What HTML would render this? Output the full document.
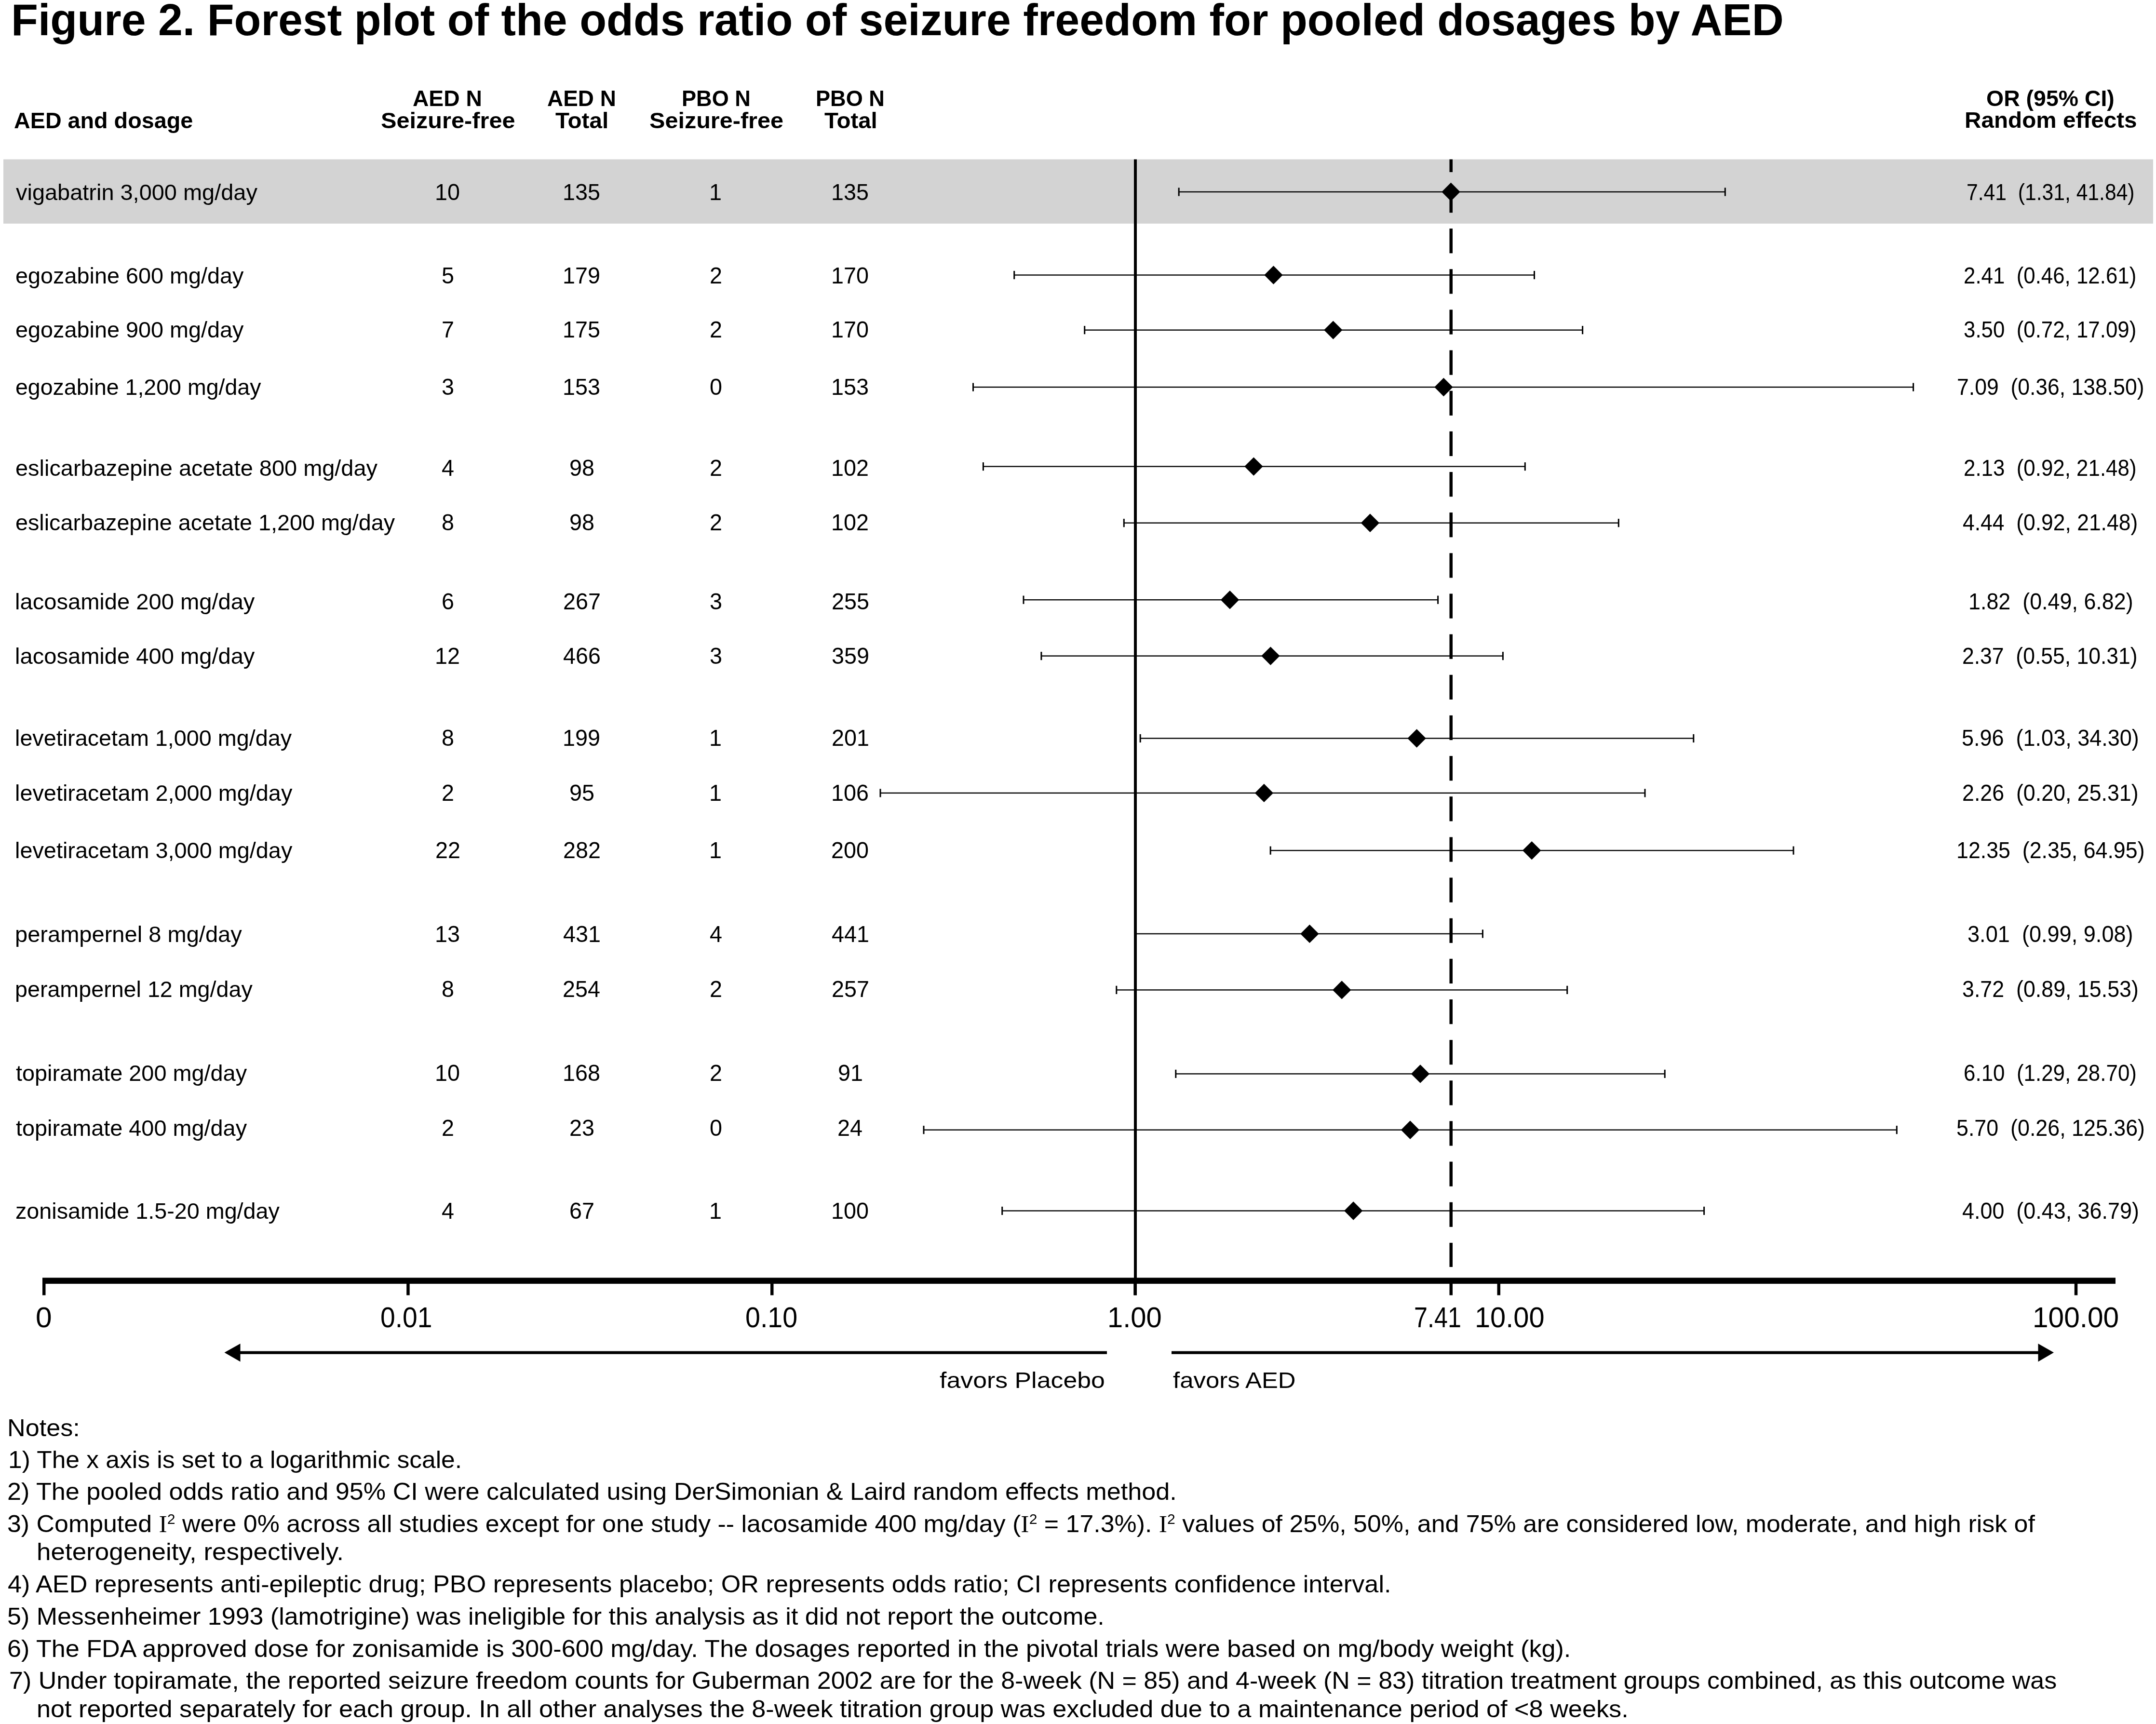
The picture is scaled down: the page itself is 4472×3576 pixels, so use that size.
<!DOCTYPE html>
<html><head><meta charset="utf-8"><title>Forest plot</title>
<style>
html,body{margin:0;padding:0;background:#fff;}
body{width:4472px;height:3576px;position:relative;overflow:hidden;font-family:"Liberation Sans", sans-serif;color:#000;}
.t{position:absolute;white-space:pre;transform-origin:0 0;}
#w{position:absolute;left:0;top:0;width:4472px;height:3576px;filter:grayscale(1);}
svg{position:absolute;left:0;top:0;}
</style></head><body>
<div id="w"><svg width="4472" height="3576" viewBox="0 0 4472 3576">
<rect x='7.0' y='330.5' width='4459.0' height='133.3' fill='#d3d3d3'/><rect x='2352.0' y='330.5' width='6.0' height='2356.0' fill='#000'/><rect x='3006.5' y='330.5' width='6.5' height='26.5' fill='#000'/><rect x='3006.5' y='390.0' width='6.5' height='51.2' fill='#000'/><rect x='3006.5' y='474.1' width='6.5' height='51.2' fill='#000'/><rect x='3006.5' y='558.2' width='6.5' height='51.2' fill='#000'/><rect x='3006.5' y='642.4' width='6.5' height='51.2' fill='#000'/><rect x='3006.5' y='726.5' width='6.5' height='51.2' fill='#000'/><rect x='3006.5' y='810.7' width='6.5' height='51.2' fill='#000'/><rect x='3006.5' y='894.8' width='6.5' height='51.2' fill='#000'/><rect x='3006.5' y='979.0' width='6.5' height='51.2' fill='#000'/><rect x='3006.5' y='1063.1' width='6.5' height='51.2' fill='#000'/><rect x='3006.5' y='1147.3' width='6.5' height='51.2' fill='#000'/><rect x='3006.5' y='1231.5' width='6.5' height='51.2' fill='#000'/><rect x='3006.5' y='1315.6' width='6.5' height='51.2' fill='#000'/><rect x='3006.5' y='1399.8' width='6.5' height='51.2' fill='#000'/><rect x='3006.5' y='1483.9' width='6.5' height='51.2' fill='#000'/><rect x='3006.5' y='1568.1' width='6.5' height='51.2' fill='#000'/><rect x='3006.5' y='1652.2' width='6.5' height='51.2' fill='#000'/><rect x='3006.5' y='1736.4' width='6.5' height='51.2' fill='#000'/><rect x='3006.5' y='1820.5' width='6.5' height='51.2' fill='#000'/><rect x='3006.5' y='1904.7' width='6.5' height='51.2' fill='#000'/><rect x='3006.5' y='1988.8' width='6.5' height='51.2' fill='#000'/><rect x='3006.5' y='2073.0' width='6.5' height='51.2' fill='#000'/><rect x='3006.5' y='2157.1' width='6.5' height='51.2' fill='#000'/><rect x='3006.5' y='2241.3' width='6.5' height='51.2' fill='#000'/><rect x='3006.5' y='2325.4' width='6.5' height='51.2' fill='#000'/><rect x='3006.5' y='2409.6' width='6.5' height='51.2' fill='#000'/><rect x='3006.5' y='2493.7' width='6.5' height='51.2' fill='#000'/><rect x='3006.5' y='2577.9' width='6.5' height='50.1' fill='#000'/><rect x='88.0' y='2650.3' width='4300.0' height='12.6' fill='#000'/><rect x='88.0' y='2662.0' width='6.5' height='24.6' fill='#000'/><rect x='843.2' y='2662.0' width='6.5' height='24.6' fill='#000'/><rect x='1598.0' y='2662.0' width='6.5' height='24.6' fill='#000'/><rect x='2351.3' y='2662.0' width='6.5' height='24.6' fill='#000'/><rect x='3006.5' y='2662.0' width='6.5' height='24.6' fill='#000'/><rect x='3105.5' y='2662.0' width='6.5' height='24.6' fill='#000'/><rect x='4302.8' y='2662.0' width='6.5' height='24.6' fill='#000'/><rect x='497.0' y='2802.6' width='1799.0' height='6.1' fill='#000'/><polygon points='465.5,2805.6 498.5,2786.9 498.5,2824.5' fill='#000'/><rect x='2430.0' y='2802.6' width='1799.0' height='6.1' fill='#000'/><polygon points='4260,2805.6 4227.5,2786.9 4227.5,2824.5' fill='#000'/><rect x='2445.2' y='396.8' width='1133.1' height='2.4' fill='#000'/><rect x='2443.7' y='389.4' width='3.0' height='17.2' fill='#000'/><rect x='3576.8' y='389.4' width='3.0' height='17.2' fill='#000'/><polygon points='2990.3,398.0 3009.5,378.8 3028.7,398.0 3009.5,417.2' fill='#000'/><rect x='2103.7' y='569.3' width='1078.8' height='2.4' fill='#000'/><rect x='2102.2' y='561.9' width='3.0' height='17.2' fill='#000'/><rect x='3181.0' y='561.9' width='3.0' height='17.2' fill='#000'/><polygon points='2622.3,570.5 2641.5,551.3 2660.7,570.5 2641.5,589.7' fill='#000'/><rect x='2249.7' y='683.4' width='1032.9' height='2.4' fill='#000'/><rect x='2248.2' y='676.0' width='3.0' height='17.2' fill='#000'/><rect x='3281.1' y='676.0' width='3.0' height='17.2' fill='#000'/><polygon points='2746.1,684.6 2765.3,665.4 2784.5,684.6 2765.3,703.8' fill='#000'/><rect x='2018.5' y='801.8' width='1950.1' height='2.4' fill='#000'/><rect x='2017.0' y='794.4' width='3.0' height='17.2' fill='#000'/><rect x='3967.1' y='794.4' width='3.0' height='17.2' fill='#000'/><polygon points='2975.2,803.0 2994.4,783.8 3013.6,803.0 2994.4,822.2' fill='#000'/><rect x='2039.4' y='966.4' width='1123.9' height='2.4' fill='#000'/><rect x='2037.9' y='959.0' width='3.0' height='17.2' fill='#000'/><rect x='3161.8' y='959.0' width='3.0' height='17.2' fill='#000'/><polygon points='2581.2,967.6 2600.4,948.4 2619.6,967.6 2600.4,986.8' fill='#000'/><rect x='2331.3' y='1083.5' width='1026.0' height='2.4' fill='#000'/><rect x='2329.8' y='1076.1' width='3.0' height='17.2' fill='#000'/><rect x='3355.8' y='1076.1' width='3.0' height='17.2' fill='#000'/><polygon points='2822.7,1084.7 2841.9,1065.5 2861.1,1084.7 2841.9,1103.9' fill='#000'/><rect x='2123.0' y='1243.0' width='859.6' height='2.4' fill='#000'/><rect x='2121.5' y='1235.6' width='3.0' height='17.2' fill='#000'/><rect x='2981.1' y='1235.6' width='3.0' height='17.2' fill='#000'/><polygon points='2531.8,1244.2 2551.0,1225.0 2570.2,1244.2 2551.0,1263.4' fill='#000'/><rect x='2159.9' y='1359.4' width='957.5' height='2.4' fill='#000'/><rect x='2158.4' y='1352.0' width='3.0' height='17.2' fill='#000'/><rect x='3115.9' y='1352.0' width='3.0' height='17.2' fill='#000'/><polygon points='2616.2,1360.6 2635.4,1341.4 2654.6,1360.6 2635.4,1379.8' fill='#000'/><rect x='2365.2' y='1530.3' width='1147.6' height='2.4' fill='#000'/><rect x='2363.7' y='1522.9' width='3.0' height='17.2' fill='#000'/><rect x='3511.3' y='1522.9' width='3.0' height='17.2' fill='#000'/><polygon points='2919.4,1531.5 2938.6,1512.3 2957.8,1531.5 2938.6,1550.7' fill='#000'/><rect x='1826.0' y='1643.7' width='1586.0' height='2.4' fill='#000'/><rect x='1824.5' y='1636.3' width='3.0' height='17.2' fill='#000'/><rect x='3410.5' y='1636.3' width='3.0' height='17.2' fill='#000'/><polygon points='2602.7,1644.9 2621.9,1625.7 2641.1,1644.9 2621.9,1664.1' fill='#000'/><rect x='2635.2' y='1762.9' width='1084.8' height='2.4' fill='#000'/><rect x='2633.7' y='1755.5' width='3.0' height='17.2' fill='#000'/><rect x='3718.5' y='1755.5' width='3.0' height='17.2' fill='#000'/><polygon points='3158.0,1764.1 3177.2,1744.9 3196.4,1764.1 3177.2,1783.3' fill='#000'/><rect x='2355.0' y='1935.7' width='720.4' height='2.4' fill='#000'/><rect x='3073.9' y='1928.3' width='3.0' height='17.2' fill='#000'/><polygon points='2697.2,1936.9 2716.4,1917.7 2735.6,1936.9 2716.4,1956.1' fill='#000'/><rect x='2315.8' y='2052.2' width='934.9' height='2.4' fill='#000'/><rect x='2314.3' y='2044.8' width='3.0' height='17.2' fill='#000'/><rect x='3249.2' y='2044.8' width='3.0' height='17.2' fill='#000'/><polygon points='2764.0,2053.4 2783.2,2034.2 2802.4,2053.4 2783.2,2072.6' fill='#000'/><rect x='2438.8' y='2226.2' width='1014.4' height='2.4' fill='#000'/><rect x='2437.3' y='2218.8' width='3.0' height='17.2' fill='#000'/><rect x='3451.7' y='2218.8' width='3.0' height='17.2' fill='#000'/><polygon points='2926.8,2227.4 2946.0,2208.2 2965.2,2227.4 2946.0,2246.6' fill='#000'/><rect x='1916.0' y='2342.5' width='2018.3' height='2.4' fill='#000'/><rect x='1914.5' y='2335.1' width='3.0' height='17.2' fill='#000'/><rect x='3932.8' y='2335.1' width='3.0' height='17.2' fill='#000'/><polygon points='2905.8,2343.7 2925.0,2324.5 2944.2,2343.7 2925.0,2362.9' fill='#000'/><rect x='2078.7' y='2510.3' width='1455.9' height='2.4' fill='#000'/><rect x='2077.2' y='2502.9' width='3.0' height='17.2' fill='#000'/><rect x='3533.1' y='2502.9' width='3.0' height='17.2' fill='#000'/><polygon points='2788.0,2511.5 2807.2,2492.3 2826.4,2511.5 2807.2,2530.7' fill='#000'/>
</svg>
<div class=t style='left:22.8px;top:-52.1px;font-weight:700;font-size:93px;line-height:186px;transform:scaleX(0.9837);'>Figure 2. Forest plot of the odds ratio of seizure freedom for pooled dosages by AED</div>
<div class=t style='left:29.2px;top:203.5px;font-weight:700;font-size:46px;line-height:92px;transform:scaleX(1.0154);'>AED and dosage</div>
<div class=t style='left:856.4px;top:156.5px;font-weight:700;font-size:47px;line-height:94px;transform:scaleX(0.9832);'>AED N</div>
<div class=t style='left:789.5px;top:203.5px;font-weight:700;font-size:46px;line-height:92px;transform:scaleX(1.0579);'>Seizure-free</div>
<div class=t style='left:1134.7px;top:156.5px;font-weight:700;font-size:47px;line-height:94px;transform:scaleX(0.9769);'>AED N</div>
<div class=t style='left:1152.4px;top:203.5px;font-weight:700;font-size:46px;line-height:92px;transform:scaleX(1.0346);'>Total</div>
<div class=t style='left:1414.1px;top:156.5px;font-weight:700;font-size:47px;line-height:94px;transform:scaleX(0.9600);'>PBO N</div>
<div class=t style='left:1346.7px;top:203.5px;font-weight:700;font-size:46px;line-height:92px;transform:scaleX(1.0559);'>Seizure-free</div>
<div class=t style='left:1692.4px;top:156.5px;font-weight:700;font-size:47px;line-height:94px;transform:scaleX(0.9600);'>PBO N</div>
<div class=t style='left:1709.6px;top:203.5px;font-weight:700;font-size:46px;line-height:92px;transform:scaleX(1.0308);'>Total</div>
<div class=t style='left:4120.0px;top:156.9px;font-weight:700;font-size:47px;line-height:94px;transform:scaleX(0.9883);'>OR (95% CI)</div>
<div class=t style='left:4074.9px;top:203.2px;font-weight:700;font-size:46px;line-height:92px;transform:scaleX(1.0363);'>Random effects</div>
<div class=t style='left:33.2px;top:353.6px;font-weight:400;font-size:45.8px;line-height:91px;transform:scaleX(1.0247);'>vigabatrin 3,000 mg/day</div>
<div class=t style='left:902.3px;top:351.6px;font-weight:400;font-size:47.2px;line-height:94px;transform:scaleX(0.9900);'>10</div>
<div class=t style='left:1167.4px;top:351.6px;font-weight:400;font-size:47.2px;line-height:94px;transform:scaleX(0.9900);'>135</div>
<div class=t style='left:1471.1px;top:351.6px;font-weight:400;font-size:47.2px;line-height:94px;transform:scaleX(0.9900);'>1</div>
<div class=t style='left:1724.4px;top:351.6px;font-weight:400;font-size:47.2px;line-height:94px;transform:scaleX(0.9900);'>135</div>
<div class=t style='left:4078.9px;top:351.6px;font-weight:400;font-size:47.2px;line-height:94px;transform:scaleX(0.9039);'>7.41  (1.31, 41.84)</div>
<div class=t style='left:32.2px;top:526.7px;font-weight:400;font-size:45.8px;line-height:91px;transform:scaleX(1.0216);'>egozabine 600 mg/day</div>
<div class=t style='left:915.6px;top:524.7px;font-weight:400;font-size:47.2px;line-height:94px;transform:scaleX(0.9900);'>5</div>
<div class=t style='left:1167.4px;top:524.7px;font-weight:400;font-size:47.2px;line-height:94px;transform:scaleX(0.9900);'>179</div>
<div class=t style='left:1471.6px;top:524.7px;font-weight:400;font-size:47.2px;line-height:94px;transform:scaleX(0.9900);'>2</div>
<div class=t style='left:1723.9px;top:524.7px;font-weight:400;font-size:47.2px;line-height:94px;transform:scaleX(0.9900);'>170</div>
<div class=t style='left:4073.2px;top:524.7px;font-weight:400;font-size:47.2px;line-height:94px;transform:scaleX(0.9291);'>2.41  (0.46, 12.61)</div>
<div class=t style='left:32.2px;top:639.0px;font-weight:400;font-size:45.8px;line-height:91px;transform:scaleX(1.0216);'>egozabine 900 mg/day</div>
<div class=t style='left:915.6px;top:637.0px;font-weight:400;font-size:47.2px;line-height:94px;transform:scaleX(0.9900);'>7</div>
<div class=t style='left:1167.4px;top:637.0px;font-weight:400;font-size:47.2px;line-height:94px;transform:scaleX(0.9900);'>175</div>
<div class=t style='left:1471.6px;top:637.0px;font-weight:400;font-size:47.2px;line-height:94px;transform:scaleX(0.9900);'>2</div>
<div class=t style='left:1723.9px;top:637.0px;font-weight:400;font-size:47.2px;line-height:94px;transform:scaleX(0.9900);'>170</div>
<div class=t style='left:4073.2px;top:637.0px;font-weight:400;font-size:47.2px;line-height:94px;transform:scaleX(0.9291);'>3.50  (0.72, 17.09)</div>
<div class=t style='left:32.2px;top:758.1px;font-weight:400;font-size:45.8px;line-height:91px;transform:scaleX(1.0156);'>egozabine 1,200 mg/day</div>
<div class=t style='left:915.6px;top:756.1px;font-weight:400;font-size:47.2px;line-height:94px;transform:scaleX(0.9900);'>3</div>
<div class=t style='left:1167.4px;top:756.1px;font-weight:400;font-size:47.2px;line-height:94px;transform:scaleX(0.9900);'>153</div>
<div class=t style='left:1472.1px;top:756.1px;font-weight:400;font-size:47.2px;line-height:94px;transform:scaleX(0.9900);'>0</div>
<div class=t style='left:1724.4px;top:756.1px;font-weight:400;font-size:47.2px;line-height:94px;transform:scaleX(0.9900);'>153</div>
<div class=t style='left:4059.3px;top:756.1px;font-weight:400;font-size:47.2px;line-height:94px;transform:scaleX(0.9434);'>7.09  (0.36, 138.50)</div>
<div class=t style='left:32.2px;top:925.5px;font-weight:400;font-size:45.8px;line-height:91px;transform:scaleX(1.0242);'>eslicarbazepine acetate 800 mg/day</div>
<div class=t style='left:915.6px;top:923.5px;font-weight:400;font-size:47.2px;line-height:94px;transform:scaleX(0.9900);'>4</div>
<div class=t style='left:1180.8px;top:923.5px;font-weight:400;font-size:47.2px;line-height:94px;transform:scaleX(0.9900);'>98</div>
<div class=t style='left:1471.6px;top:923.5px;font-weight:400;font-size:47.2px;line-height:94px;transform:scaleX(0.9900);'>2</div>
<div class=t style='left:1724.4px;top:923.5px;font-weight:400;font-size:47.2px;line-height:94px;transform:scaleX(0.9900);'>102</div>
<div class=t style='left:4072.6px;top:923.5px;font-weight:400;font-size:47.2px;line-height:94px;transform:scaleX(0.9296);'>2.13  (0.92, 21.48)</div>
<div class=t style='left:32.2px;top:1038.5px;font-weight:400;font-size:45.8px;line-height:91px;transform:scaleX(1.0204);'>eslicarbazepine acetate 1,200 mg/day</div>
<div class=t style='left:915.6px;top:1036.5px;font-weight:400;font-size:47.2px;line-height:94px;transform:scaleX(0.9900);'>8</div>
<div class=t style='left:1180.8px;top:1036.5px;font-weight:400;font-size:47.2px;line-height:94px;transform:scaleX(0.9900);'>98</div>
<div class=t style='left:1471.6px;top:1036.5px;font-weight:400;font-size:47.2px;line-height:94px;transform:scaleX(0.9900);'>2</div>
<div class=t style='left:1724.4px;top:1036.5px;font-weight:400;font-size:47.2px;line-height:94px;transform:scaleX(0.9900);'>102</div>
<div class=t style='left:4071.1px;top:1036.5px;font-weight:400;font-size:47.2px;line-height:94px;transform:scaleX(0.9418);'>4.44  (0.92, 21.48)</div>
<div class=t style='left:31.1px;top:1203.1px;font-weight:400;font-size:45.8px;line-height:91px;transform:scaleX(1.0284);'>lacosamide 200 mg/day</div>
<div class=t style='left:915.6px;top:1201.1px;font-weight:400;font-size:47.2px;line-height:94px;transform:scaleX(0.9900);'>6</div>
<div class=t style='left:1167.9px;top:1201.1px;font-weight:400;font-size:47.2px;line-height:94px;transform:scaleX(0.9900);'>267</div>
<div class=t style='left:1471.6px;top:1201.1px;font-weight:400;font-size:47.2px;line-height:94px;transform:scaleX(0.9900);'>3</div>
<div class=t style='left:1724.9px;top:1201.1px;font-weight:400;font-size:47.2px;line-height:94px;transform:scaleX(0.9900);'>255</div>
<div class=t style='left:4082.7px;top:1201.1px;font-weight:400;font-size:47.2px;line-height:94px;transform:scaleX(0.9506);'>1.82  (0.49, 6.82)</div>
<div class=t style='left:31.1px;top:1316.0px;font-weight:400;font-size:45.8px;line-height:91px;transform:scaleX(1.0284);'>lacosamide 400 mg/day</div>
<div class=t style='left:902.3px;top:1314.0px;font-weight:400;font-size:47.2px;line-height:94px;transform:scaleX(0.9900);'>12</div>
<div class=t style='left:1168.4px;top:1314.0px;font-weight:400;font-size:47.2px;line-height:94px;transform:scaleX(0.9900);'>466</div>
<div class=t style='left:1471.6px;top:1314.0px;font-weight:400;font-size:47.2px;line-height:94px;transform:scaleX(0.9900);'>3</div>
<div class=t style='left:1724.9px;top:1314.0px;font-weight:400;font-size:47.2px;line-height:94px;transform:scaleX(0.9900);'>359</div>
<div class=t style='left:4070.1px;top:1314.0px;font-weight:400;font-size:47.2px;line-height:94px;transform:scaleX(0.9429);'>2.37  (0.55, 10.31)</div>
<div class=t style='left:31.2px;top:1486.4px;font-weight:400;font-size:45.8px;line-height:91px;transform:scaleX(1.0203);'>levetiracetam 1,000 mg/day</div>
<div class=t style='left:915.6px;top:1484.4px;font-weight:400;font-size:47.2px;line-height:94px;transform:scaleX(0.9900);'>8</div>
<div class=t style='left:1167.4px;top:1484.4px;font-weight:400;font-size:47.2px;line-height:94px;transform:scaleX(0.9900);'>199</div>
<div class=t style='left:1471.1px;top:1484.4px;font-weight:400;font-size:47.2px;line-height:94px;transform:scaleX(0.9900);'>1</div>
<div class=t style='left:1724.9px;top:1484.4px;font-weight:400;font-size:47.2px;line-height:94px;transform:scaleX(0.9900);'>201</div>
<div class=t style='left:4068.5px;top:1484.4px;font-weight:400;font-size:47.2px;line-height:94px;transform:scaleX(0.9537);'>5.96  (1.03, 34.30)</div>
<div class=t style='left:31.2px;top:1600.0px;font-weight:400;font-size:45.8px;line-height:91px;transform:scaleX(1.0226);'>levetiracetam 2,000 mg/day</div>
<div class=t style='left:915.6px;top:1598.0px;font-weight:400;font-size:47.2px;line-height:94px;transform:scaleX(0.9900);'>2</div>
<div class=t style='left:1180.8px;top:1598.0px;font-weight:400;font-size:47.2px;line-height:94px;transform:scaleX(0.9900);'>95</div>
<div class=t style='left:1471.1px;top:1598.0px;font-weight:400;font-size:47.2px;line-height:94px;transform:scaleX(0.9900);'>1</div>
<div class=t style='left:1724.4px;top:1598.0px;font-weight:400;font-size:47.2px;line-height:94px;transform:scaleX(0.9900);'>106</div>
<div class=t style='left:4069.6px;top:1598.0px;font-weight:400;font-size:47.2px;line-height:94px;transform:scaleX(0.9482);'>2.26  (0.20, 25.31)</div>
<div class=t style='left:31.2px;top:1719.2px;font-weight:400;font-size:45.8px;line-height:91px;transform:scaleX(1.0226);'>levetiracetam 3,000 mg/day</div>
<div class=t style='left:902.8px;top:1717.2px;font-weight:400;font-size:47.2px;line-height:94px;transform:scaleX(0.9900);'>22</div>
<div class=t style='left:1167.9px;top:1717.2px;font-weight:400;font-size:47.2px;line-height:94px;transform:scaleX(0.9900);'>282</div>
<div class=t style='left:1471.1px;top:1717.2px;font-weight:400;font-size:47.2px;line-height:94px;transform:scaleX(0.9900);'>1</div>
<div class=t style='left:1724.4px;top:1717.2px;font-weight:400;font-size:47.2px;line-height:94px;transform:scaleX(0.9900);'>200</div>
<div class=t style='left:4057.6px;top:1717.2px;font-weight:400;font-size:47.2px;line-height:94px;transform:scaleX(0.9482);'>12.35  (2.35, 64.95)</div>
<div class=t style='left:31.1px;top:1893.1px;font-weight:400;font-size:45.8px;line-height:91px;transform:scaleX(1.0274);'>perampernel 8 mg/day</div>
<div class=t style='left:902.3px;top:1891.1px;font-weight:400;font-size:47.2px;line-height:94px;transform:scaleX(0.9900);'>13</div>
<div class=t style='left:1168.4px;top:1891.1px;font-weight:400;font-size:47.2px;line-height:94px;transform:scaleX(0.9900);'>431</div>
<div class=t style='left:1471.6px;top:1891.1px;font-weight:400;font-size:47.2px;line-height:94px;transform:scaleX(0.9900);'>4</div>
<div class=t style='left:1725.4px;top:1891.1px;font-weight:400;font-size:47.2px;line-height:94px;transform:scaleX(0.9900);'>441</div>
<div class=t style='left:4081.3px;top:1891.1px;font-weight:400;font-size:47.2px;line-height:94px;transform:scaleX(0.9561);'>3.01  (0.99, 9.08)</div>
<div class=t style='left:31.2px;top:2006.7px;font-weight:400;font-size:45.8px;line-height:91px;transform:scaleX(1.0187);'>perampernel 12 mg/day</div>
<div class=t style='left:915.6px;top:2004.7px;font-weight:400;font-size:47.2px;line-height:94px;transform:scaleX(0.9900);'>8</div>
<div class=t style='left:1167.4px;top:2004.7px;font-weight:400;font-size:47.2px;line-height:94px;transform:scaleX(0.9900);'>254</div>
<div class=t style='left:1471.6px;top:2004.7px;font-weight:400;font-size:47.2px;line-height:94px;transform:scaleX(0.9900);'>2</div>
<div class=t style='left:1724.9px;top:2004.7px;font-weight:400;font-size:47.2px;line-height:94px;transform:scaleX(0.9900);'>257</div>
<div class=t style='left:4069.8px;top:2004.7px;font-weight:400;font-size:47.2px;line-height:94px;transform:scaleX(0.9487);'>3.72  (0.89, 15.53)</div>
<div class=t style='left:33.2px;top:2181.0px;font-weight:400;font-size:45.8px;line-height:91px;transform:scaleX(1.0228);'>topiramate 200 mg/day</div>
<div class=t style='left:902.3px;top:2179.0px;font-weight:400;font-size:47.2px;line-height:94px;transform:scaleX(0.9900);'>10</div>
<div class=t style='left:1167.4px;top:2179.0px;font-weight:400;font-size:47.2px;line-height:94px;transform:scaleX(0.9900);'>168</div>
<div class=t style='left:1471.6px;top:2179.0px;font-weight:400;font-size:47.2px;line-height:94px;transform:scaleX(0.9900);'>2</div>
<div class=t style='left:1737.8px;top:2179.0px;font-weight:400;font-size:47.2px;line-height:94px;transform:scaleX(0.9900);'>91</div>
<div class=t style='left:4072.8px;top:2179.0px;font-weight:400;font-size:47.2px;line-height:94px;transform:scaleX(0.9309);'>6.10  (1.29, 28.70)</div>
<div class=t style='left:33.2px;top:2295.1px;font-weight:400;font-size:45.8px;line-height:91px;transform:scaleX(1.0228);'>topiramate 400 mg/day</div>
<div class=t style='left:915.6px;top:2293.1px;font-weight:400;font-size:47.2px;line-height:94px;transform:scaleX(0.9900);'>2</div>
<div class=t style='left:1180.8px;top:2293.1px;font-weight:400;font-size:47.2px;line-height:94px;transform:scaleX(0.9900);'>23</div>
<div class=t style='left:1472.1px;top:2293.1px;font-weight:400;font-size:47.2px;line-height:94px;transform:scaleX(0.9900);'>0</div>
<div class=t style='left:1737.3px;top:2293.1px;font-weight:400;font-size:47.2px;line-height:94px;transform:scaleX(0.9900);'>24</div>
<div class=t style='left:4057.5px;top:2293.1px;font-weight:400;font-size:47.2px;line-height:94px;transform:scaleX(0.9493);'>5.70  (0.26, 125.36)</div>
<div class=t style='left:32.2px;top:2467.3px;font-weight:400;font-size:45.8px;line-height:91px;transform:scaleX(1.0201);'>zonisamide 1.5-20 mg/day</div>
<div class=t style='left:915.6px;top:2465.3px;font-weight:400;font-size:47.2px;line-height:94px;transform:scaleX(0.9900);'>4</div>
<div class=t style='left:1180.8px;top:2465.3px;font-weight:400;font-size:47.2px;line-height:94px;transform:scaleX(0.9900);'>67</div>
<div class=t style='left:1471.1px;top:2465.3px;font-weight:400;font-size:47.2px;line-height:94px;transform:scaleX(0.9900);'>1</div>
<div class=t style='left:1723.9px;top:2465.3px;font-weight:400;font-size:47.2px;line-height:94px;transform:scaleX(0.9900);'>100</div>
<div class=t style='left:4069.9px;top:2465.3px;font-weight:400;font-size:47.2px;line-height:94px;transform:scaleX(0.9514);'>4.00  (0.43, 36.79)</div>
<div class=t style='left:73.6px;top:2673.3px;font-weight:400;font-size:60px;line-height:120px;transform:scaleX(1.0069);'>0</div>
<div class=t style='left:789.0px;top:2673.3px;font-weight:400;font-size:60px;line-height:120px;transform:scaleX(0.9196);'>0.01</div>
<div class=t style='left:1545.5px;top:2673.3px;font-weight:400;font-size:60px;line-height:120px;transform:scaleX(0.9257);'>0.10</div>
<div class=t style='left:2297.1px;top:2673.3px;font-weight:400;font-size:60px;line-height:120px;transform:scaleX(0.9658);'>1.00</div>
<div class=t style='left:2932.7px;top:2673.3px;font-weight:400;font-size:60px;line-height:120px;transform:scaleX(0.8378);'>7.41</div>
<div class=t style='left:3059.1px;top:2673.3px;font-weight:400;font-size:60px;line-height:120px;transform:scaleX(0.9625);'>10.00</div>
<div class=t style='left:4215.8px;top:2673.3px;font-weight:400;font-size:60px;line-height:120px;transform:scaleX(0.9764);'>100.00</div>
<div class=t style='left:1949.0px;top:2818.3px;font-weight:400;font-size:45.8px;line-height:91px;transform:scaleX(1.1318);'>favors Placebo</div>
<div class=t style='left:2432.6px;top:2818.3px;font-weight:400;font-size:45.8px;line-height:91px;transform:scaleX(1.1114);'>favors AED</div>
<div class=t style='left:15.0px;top:2910.8px;font-weight:400;font-size:50.8px;line-height:101px;transform:scaleX(1.0266);'>Notes:</div>
<div class=t style='left:16.9px;top:2977.0px;font-weight:400;font-size:50.8px;line-height:101px;transform:scaleX(1.0142);'>1) The x axis is set to a logarithmic scale.</div>
<div class=t style='left:14.6px;top:3043.0px;font-weight:400;font-size:50.8px;line-height:101px;transform:scaleX(1.0272);'>2) The pooled odds ratio and 95% CI were calculated using DerSimonian &amp; Laird random effects method.</div>
<div class=t style='left:14.7px;top:3109.6px;font-weight:400;font-size:50.8px;line-height:101px;transform:scaleX(1.0217);'>3) Computed <span style="font-family:'Liberation Serif',serif">I</span><sup style="font-size:0.58em;vertical-align:0;position:relative;top:-0.56em">2</sup> were 0% across all studies except for one study -- lacosamide 400 mg/day (<span style="font-family:'Liberation Serif',serif">I</span><sup style="font-size:0.58em;vertical-align:0;position:relative;top:-0.56em">2</sup> = 17.3%). <span style="font-family:'Liberation Serif',serif">I</span><sup style="font-size:0.58em;vertical-align:0;position:relative;top:-0.56em">2</sup> values of 25%, 50%, and 75% are considered low, moderate, and high risk of</div>
<div class=t style='left:76.1px;top:3168.4px;font-weight:400;font-size:50.8px;line-height:101px;transform:scaleX(1.0427);'>heterogeneity, respectively.</div>
<div class=t style='left:15.7px;top:3235.0px;font-weight:400;font-size:50.8px;line-height:101px;transform:scaleX(1.0276);'>4) AED represents anti-epileptic drug; PBO represents placebo; OR represents odds ratio; CI represents confidence interval.</div>
<div class=t style='left:14.7px;top:3301.7px;font-weight:400;font-size:50.8px;line-height:101px;transform:scaleX(1.0229);'>5) Messenheimer 1993 (lamotrigine) was ineligible for this analysis as it did not report the outcome.</div>
<div class=t style='left:14.6px;top:3368.6px;font-weight:400;font-size:50.8px;line-height:101px;transform:scaleX(1.0265);'>6) The FDA approved dose for zonisamide is 300-600 mg/day. The dosages reported in the pivotal trials were based on mg/body weight (kg).</div>
<div class=t style='left:18.5px;top:3435.0px;font-weight:400;font-size:50.8px;line-height:101px;transform:scaleX(1.0233);'>7) Under topiramate, the reported seizure freedom counts for Guberman 2002 are for the 8-week (N = 85) and 4-week (N = 83) titration treatment groups combined, as this outcome was</div>
<div class=t style='left:76.1px;top:3494.0px;font-weight:400;font-size:50.8px;line-height:101px;transform:scaleX(1.0279);'>not reported separately for each group. In all other analyses the 8-week titration group was excluded due to a maintenance period of &lt;8 weeks.</div>
</div></body></html>
